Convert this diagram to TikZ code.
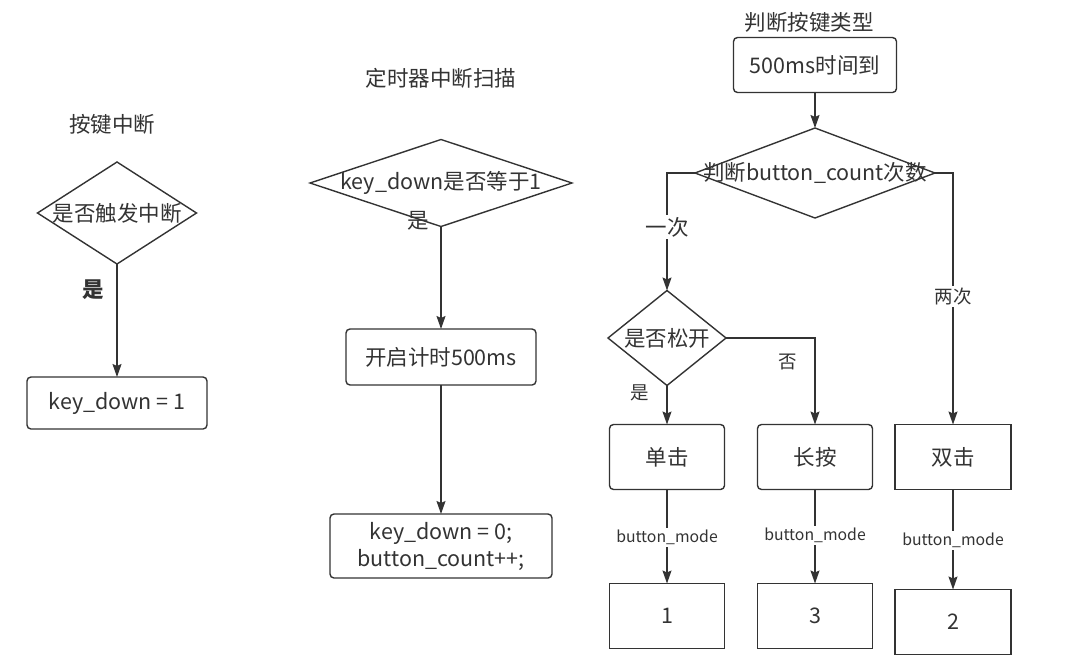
\documentclass[tikz,border=0pt]{standalone}
\usepackage{fontspec}
\setmainfont{Noto Sans CJK SC}
\usepackage{tikz}
\usetikzlibrary{arrows.meta,positioning,shapes.geometric}
\definecolor{ink}{RGB}{51,51,51}
\newcommand{\bigfs}{\fontsize{21.5}{27}\selectfont}
\newcommand{\midfs}{\fontsize{18.5}{22}\selectfont}
\newcommand{\smallfs}{\fontsize{15.8}{19}\selectfont}

\begin{document}
\begin{tikzpicture}[x=1pt, y=-1pt,
  box/.style={draw=ink, rounded corners=4pt, line width=1.4pt, text=ink, font=\bigfs,
              inner sep=0pt, outer sep=0pt, align=center},
  sqbox/.style={box, rounded corners=0pt},
  decision/.style={draw=ink, diamond, line width=1.4pt, inner sep=0pt, outer sep=0pt,
                   label={[text=ink, font=\bigfs]center:#1}},
  ttl/.style={text=ink, font=\bigfs},
  lbl/.style={text=ink, font=\midfs, inner sep=2pt},
  onlbl/.style={lbl, fill=white},
  arr/.style={-{Stealth[length=13pt, width=9pt, inset=2pt]}, draw=ink, line width=1.4pt}]
  \useasboundingbox (0,0) rectangle (1087,670);
  % key interrupt
  \node[ttl] (ttlkey) at (112,124) {按键中断};
  \node[decision={是否触发中断}, minimum width=159pt, minimum height=102pt] (trig) at (117,213) {};
  \node[box, minimum width=180pt, minimum height=52pt] (kdset) at (117,403) {key\_down = 1};
  \draw[arr] (trig.south) -- (kdset.north) node[lbl, pos=0.23, left=10pt, font=\bigfs\bfseries] {是};
  % timer scan
  \node[ttl] (ttltim) at (441,78) {定时器中断扫描};
  \node[decision={key\_down是否等于1}, minimum width=262pt, minimum height=87pt] (isone) at (441,183) {};
  \node[box, minimum width=190pt, minimum height=56pt] (start) at (441,357) {开启计时500ms};
  \node[box, minimum width=222pt, minimum height=64pt] (clear) at (441,546)
       {key\_down = 0;\\button\_count++;};
  \draw[arr] (isone.south) -- (start.north) node[lbl, pos=0, xshift=-23pt, yshift=6pt, font=\bigfs] {是};
  \draw[arr] (start.south) -- (clear.north);
  % key type
  \node[ttl] (ttltype) at (809,22) {判断按键类型};
  \node[box, minimum width=163pt, minimum height=55pt] (timeup) at (815,65) {500ms时间到};
  \node[decision={判断button\_count次数}, minimum width=240pt, minimum height=90pt] (count) at (815,173) {};
  \node[decision={是否松开}, minimum width=118pt, minimum height=95pt] (release) at (667,338) {};
  \node[box, minimum width=115pt, minimum height=65pt] (single) at (667,457) {单击};
  \node[box, minimum width=115pt, minimum height=65pt] (long) at (815,457) {长按};
  \node[sqbox, minimum width=116pt, minimum height=65pt] (double) at (953,457) {双击};
  \node[sqbox, minimum width=115pt, minimum height=65pt] (modeone) at (667,616) {1};
  \node[sqbox, minimum width=115pt, minimum height=65pt] (modethree) at (815,616) {3};
  \node[sqbox, minimum width=116pt, minimum height=65pt] (modetwo) at (953,622) {2};
  \draw[arr] (timeup.south) -- (count.north);
  \draw[arr] (count.west) -| (release.north) node[onlbl, pos=0.73, font=\bigfs] {一次};
  \draw[arr] (count.east) -| (double.north) node[onlbl, pos=0.746] {两次};
  \draw[arr] (release.south) -- (single.north) node[lbl, pos=0.2, left=15pt] {是};
  \draw[arr] (release.east) -| (long.north) node[lbl, pos=0.64, left=15pt] {否};
  \draw[arr] (single.south) -- (modeone.north) node[onlbl, pos=0.51, font=\smallfs] {button\_mode};
  \draw[arr] (long.south) -- (modethree.north) node[onlbl, pos=0.49, font=\smallfs] {button\_mode};
  \draw[arr] (double.south) -- (modetwo.north) node[onlbl, pos=0.51, font=\smallfs] {button\_mode};
\end{tikzpicture}
\end{document}
